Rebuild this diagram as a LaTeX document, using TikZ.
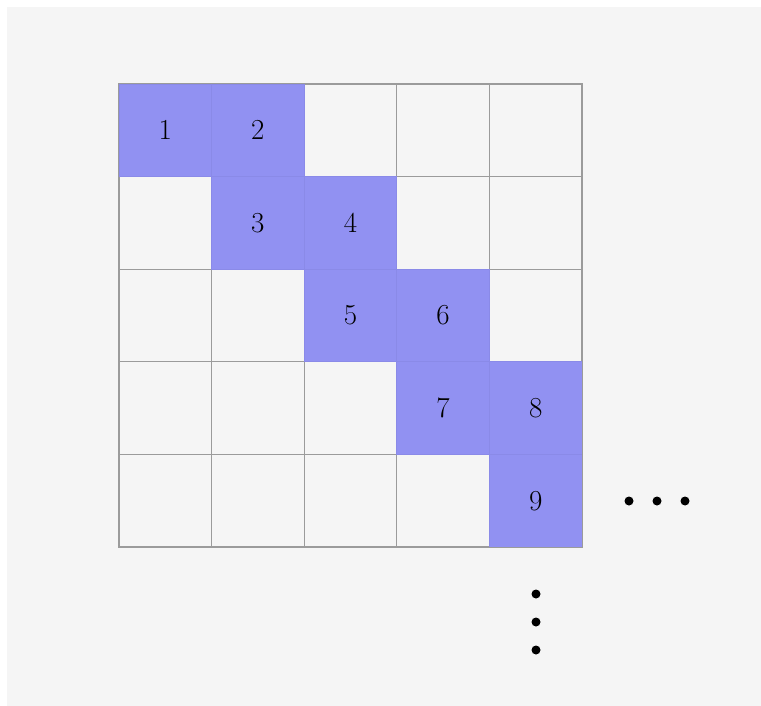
\documentclass[tikz,border=0pt]{standalone}
\usetikzlibrary{positioning}
\definecolor{bggray}{RGB}{245,245,245}
\definecolor{gridgray}{RGB}{155,155,155}
\definecolor{cellblue}{RGB}{145,145,242}
\definecolor{celledge}{RGB}{138,138,232}
\begin{document}
\begin{tikzpicture}[x=1pt,y=-1pt,
  cellbox/.style={draw=gridgray,line width=1.2pt,minimum width=92.6pt,minimum height=92.6pt,inner sep=0pt,anchor=center},
  hotbox/.style={fill=cellblue,draw=celledge,line width=0.8pt,minimum width=92.6pt,minimum height=92.6pt,inner sep=0pt,anchor=center,font=\fontsize{29}{34}\selectfont},
  dotmark/.style={circle,fill=black,inner sep=0pt,minimum size=9pt}]
\useasboundingbox (0,0) rectangle (761,706);
\fill[white] (0,0) rectangle (761,706);
\fill[bggray] (7,7) rectangle (761,706);
% empty cells
\foreach \r in {0,...,4}{
  \foreach \c in {0,...,4}{
    \node[cellbox] (e-\r-\c) at ({119+92.6*\c+46.3},{84+92.6*\r+46.3}) {};
  }
}
% highlighted cells
\node[hotbox] (h1) at (e-0-0.center) {1};
\node[hotbox] (h2) at (e-0-1.center) {2};
\node[hotbox] (h3) at (e-1-1.center) {3};
\node[hotbox] (h4) at (e-1-2.center) {4};
\node[hotbox] (h5) at (e-2-2.center) {5};
\node[hotbox] (h6) at (e-2-3.center) {6};
\node[hotbox] (h7) at (e-3-3.center) {7};
\node[hotbox] (h8) at (e-3-4.center) {8};
\node[hotbox] (h9) at (e-4-4.center) {9};
% outer border
\draw[gridgray,line width=1.2pt] (e-0-0.north west) rectangle (e-4-4.south east);
% dots
\node[dotmark] (d1) at (629,501) {};
\node[dotmark] (d2) at (657,501) {};
\node[dotmark] (d3) at (685,501) {};
\node[dotmark] (v1) at (536,594) {};
\node[dotmark] (v2) at (536,622) {};
\node[dotmark] (v3) at (536,650) {};
\end{tikzpicture}
\end{document}
